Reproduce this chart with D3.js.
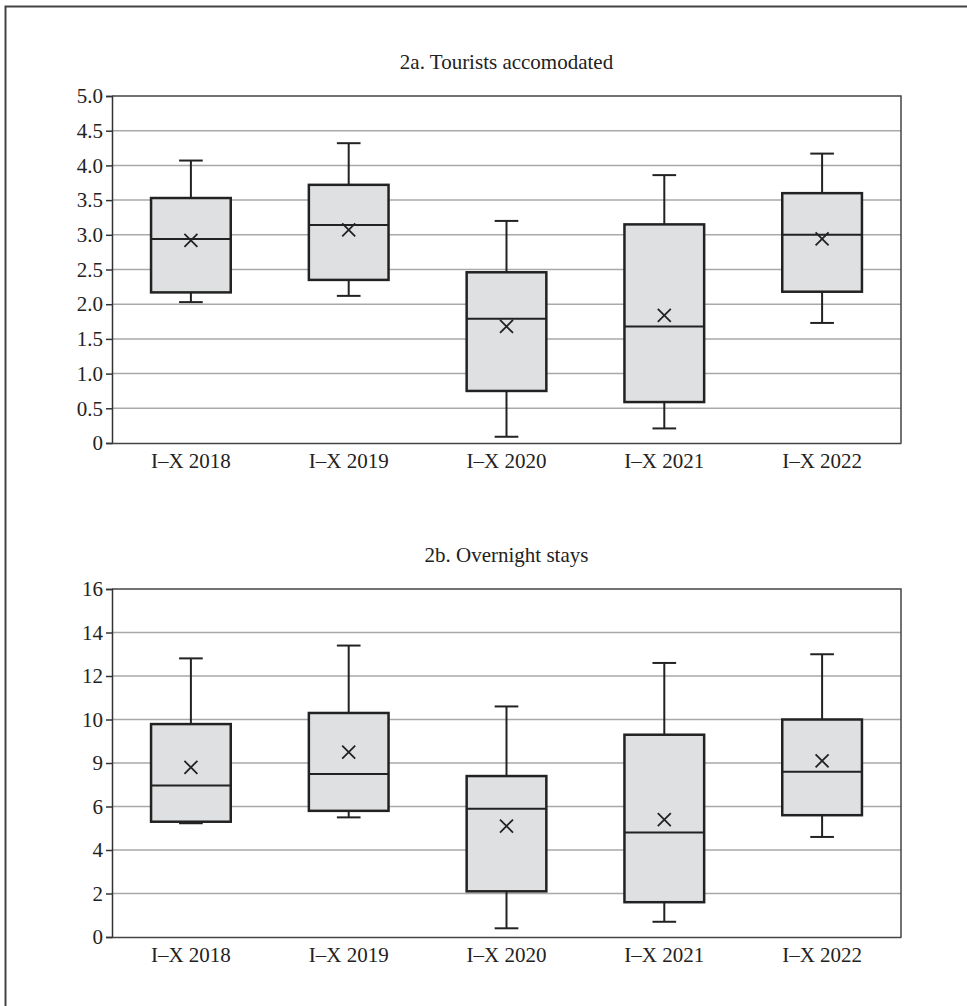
<!DOCTYPE html>
<html>
<head>
<meta charset="utf-8">
<script src="https://cdn.jsdelivr.net/npm/d3@7"></script>
<style>
  body { margin: 0; background: #fff; }
  svg text { font-family: "Liberation Serif", "DejaVu Serif", serif; fill: #222; }
</style>
</head>
<body>
<svg id="fig" width="967" height="1006"></svg>
<script>
// categories
const periods = ["I\u2013X 2018", "I\u2013X 2019", "I\u2013X 2020", "I\u2013X 2021", "I\u2013X 2022"];

// 2a. Tourists accomodated
const touristsLow = [2.03, 2.12, 0.09, 0.21, 1.73];
const touristsQ1 = [2.17, 2.35, 0.75, 0.59, 2.18];
const touristsMedian = [2.94, 3.14, 1.79, 1.68, 3.0];
const touristsQ3 = [3.53, 3.72, 2.46, 3.15, 3.60];
const touristsHigh = [4.07, 4.32, 3.20, 3.86, 4.17];
const touristsMean = [2.92, 3.07, 1.68, 1.84, 2.94];
const touristsTicks = ["0", "0.5", "1.0", "1.5", "2.0", "2.5", "3.0", "3.5", "4.0", "4.5", "5.0"];

// 2b. Overnight stays
const staysLow = [5.23, 5.5, 0.4, 0.7, 4.6];
const staysQ1 = [5.30, 5.8, 2.1, 1.6, 5.6];
const staysMedian = [6.96, 7.5, 5.9, 4.8, 7.6];
const staysQ3 = [9.79, 10.3, 7.4, 9.3, 10.0];
const staysHigh = [12.81, 13.4, 10.6, 12.6, 13.0];
const staysMean = [7.8, 8.5, 5.1, 5.4, 8.1];
const staysTicks = ["0", "2", "4", "6", "9", "10", "12", "14", "16"];

const svg = d3.select("#fig");

// outer frame (only top and left edges are visible)
svg.append("path")
    .attr("d", "M5.5,1006 V6.5 H967")
    .attr("fill", "none")
    .attr("stroke", "#444")
    .attr("stroke-width", 2);

const plotLeft = 112, plotRight = 901;
const fontSize = "21px";

function drawBox(cfg) {
    const g = svg.append("g");
    const top = cfg.top, bottom = cfg.bottom;

    const x = d3.scaleBand().domain(periods).range([plotLeft, plotRight]);
    const y = d3.scaleLinear().domain([0, cfg.max]).range([bottom, top]);
    const tickVals = cfg.ticks.map((t, i) => i * cfg.step);

    // title
    g.append("text")
        .attr("x", (plotLeft + plotRight) / 2)
        .attr("y", top - 27)
        .attr("text-anchor", "middle")
        .style("font-size", fontSize)
        .text(cfg.title);

    // gridlines
    g.append("g")
        .selectAll("line")
        .data(tickVals.slice(1, -1))
        .join("line")
        .attr("x1", plotLeft)
        .attr("x2", plotRight)
        .attr("y1", (d) => y(d))
        .attr("y2", (d) => y(d))
        .attr("stroke", "#a9a9a9")
        .attr("stroke-width", 1.5);

    // frame (top + right)
    g.append("path")
        .attr("d", `M${plotLeft},${top} H${plotRight} V${bottom}`)
        .attr("fill", "none")
        .attr("stroke", "#444")
        .attr("stroke-width", 1.5);

    // y axis
    const yAxis = g.append("g")
        .attr("transform", `translate(${plotLeft},0)`)
        .call(d3.axisLeft(y).tickValues(tickVals).tickSize(6).tickPadding(3)
            .tickFormat((d, i) => cfg.ticks[i]));
    yAxis.select(".domain").attr("stroke", "#333").attr("stroke-width", 1.5);
    yAxis.selectAll(".tick line").attr("stroke", "#333").attr("stroke-width", 1.5);
    yAxis.selectAll(".tick text").style("font-size", fontSize).attr("fill", "#222");

    // x axis
    const xAxis = g.append("g")
        .attr("transform", `translate(0,${bottom})`)
        .call(d3.axisBottom(x).tickSize(0).tickPadding(10));
    xAxis.select(".domain").attr("stroke", "#444").attr("stroke-width", 1.5);
    xAxis.selectAll(".tick text").style("font-size", fontSize).attr("fill", "#222");

    const bw = x.bandwidth() * 0.505;
    const cap = x.bandwidth() * 0.15;
    const cx = (i) => x(periods[i]) + x.bandwidth() / 2;

    const rows = periods.map((p, i) => ({
        i: i, lo: cfg.low[i], q1: cfg.q1[i], med: cfg.median[i],
        q3: cfg.q3[i], hi: cfg.high[i], mean: cfg.mean[i]
    }));

    const b = g.append("g").selectAll("g").data(rows).join("g");

    // whiskers
    b.append("line")
        .attr("x1", (d) => cx(d.i)).attr("x2", (d) => cx(d.i))
        .attr("y1", (d) => y(d.hi)).attr("y2", (d) => y(d.q3))
        .attr("stroke", "#222").attr("stroke-width", 2);
    b.append("line")
        .attr("x1", (d) => cx(d.i)).attr("x2", (d) => cx(d.i))
        .attr("y1", (d) => y(d.q1)).attr("y2", (d) => y(d.lo))
        .attr("stroke", "#222").attr("stroke-width", 2);
    b.append("line")
        .attr("x1", (d) => cx(d.i) - cap / 2).attr("x2", (d) => cx(d.i) + cap / 2)
        .attr("y1", (d) => y(d.hi)).attr("y2", (d) => y(d.hi))
        .attr("stroke", "#222").attr("stroke-width", 2);
    b.append("line")
        .attr("x1", (d) => cx(d.i) - cap / 2).attr("x2", (d) => cx(d.i) + cap / 2)
        .attr("y1", (d) => y(d.lo)).attr("y2", (d) => y(d.lo))
        .attr("stroke", "#222").attr("stroke-width", 2);

    // box
    b.append("rect")
        .attr("x", (d) => cx(d.i) - bw / 2)
        .attr("y", (d) => y(d.q3))
        .attr("width", bw)
        .attr("height", (d) => y(d.q1) - y(d.q3))
        .attr("fill", "#dfe0e2")
        .attr("stroke", "#222")
        .attr("stroke-width", 2.5);

    // median
    b.append("line")
        .attr("x1", (d) => cx(d.i) - bw / 2).attr("x2", (d) => cx(d.i) + bw / 2)
        .attr("y1", (d) => y(d.med)).attr("y2", (d) => y(d.med))
        .attr("stroke", "#222").attr("stroke-width", 2);

    // mean marker
    const s = 6.5;
    b.append("path")
        .attr("d", (d) => {
            const px = cx(d.i), py = y(d.mean);
            return `M${px - s},${py - s}L${px + s},${py + s}M${px - s},${py + s}L${px + s},${py - s}`;
        })
        .attr("stroke", "#222")
        .attr("stroke-width", 1.8)
        .attr("fill", "none");
}

drawBox({
    title: "2a. Tourists accomodated",
    top: 96, bottom: 443, max: 5, step: 0.5, ticks: touristsTicks,
    low: touristsLow, q1: touristsQ1, median: touristsMedian, q3: touristsQ3, high: touristsHigh, mean: touristsMean
});

drawBox({
    title: "2b. Overnight stays",
    top: 589, bottom: 937, max: 16, step: 2, ticks: staysTicks,
    low: staysLow, q1: staysQ1, median: staysMedian, q3: staysQ3, high: staysHigh, mean: staysMean
});
</script>
</body>
</html>
